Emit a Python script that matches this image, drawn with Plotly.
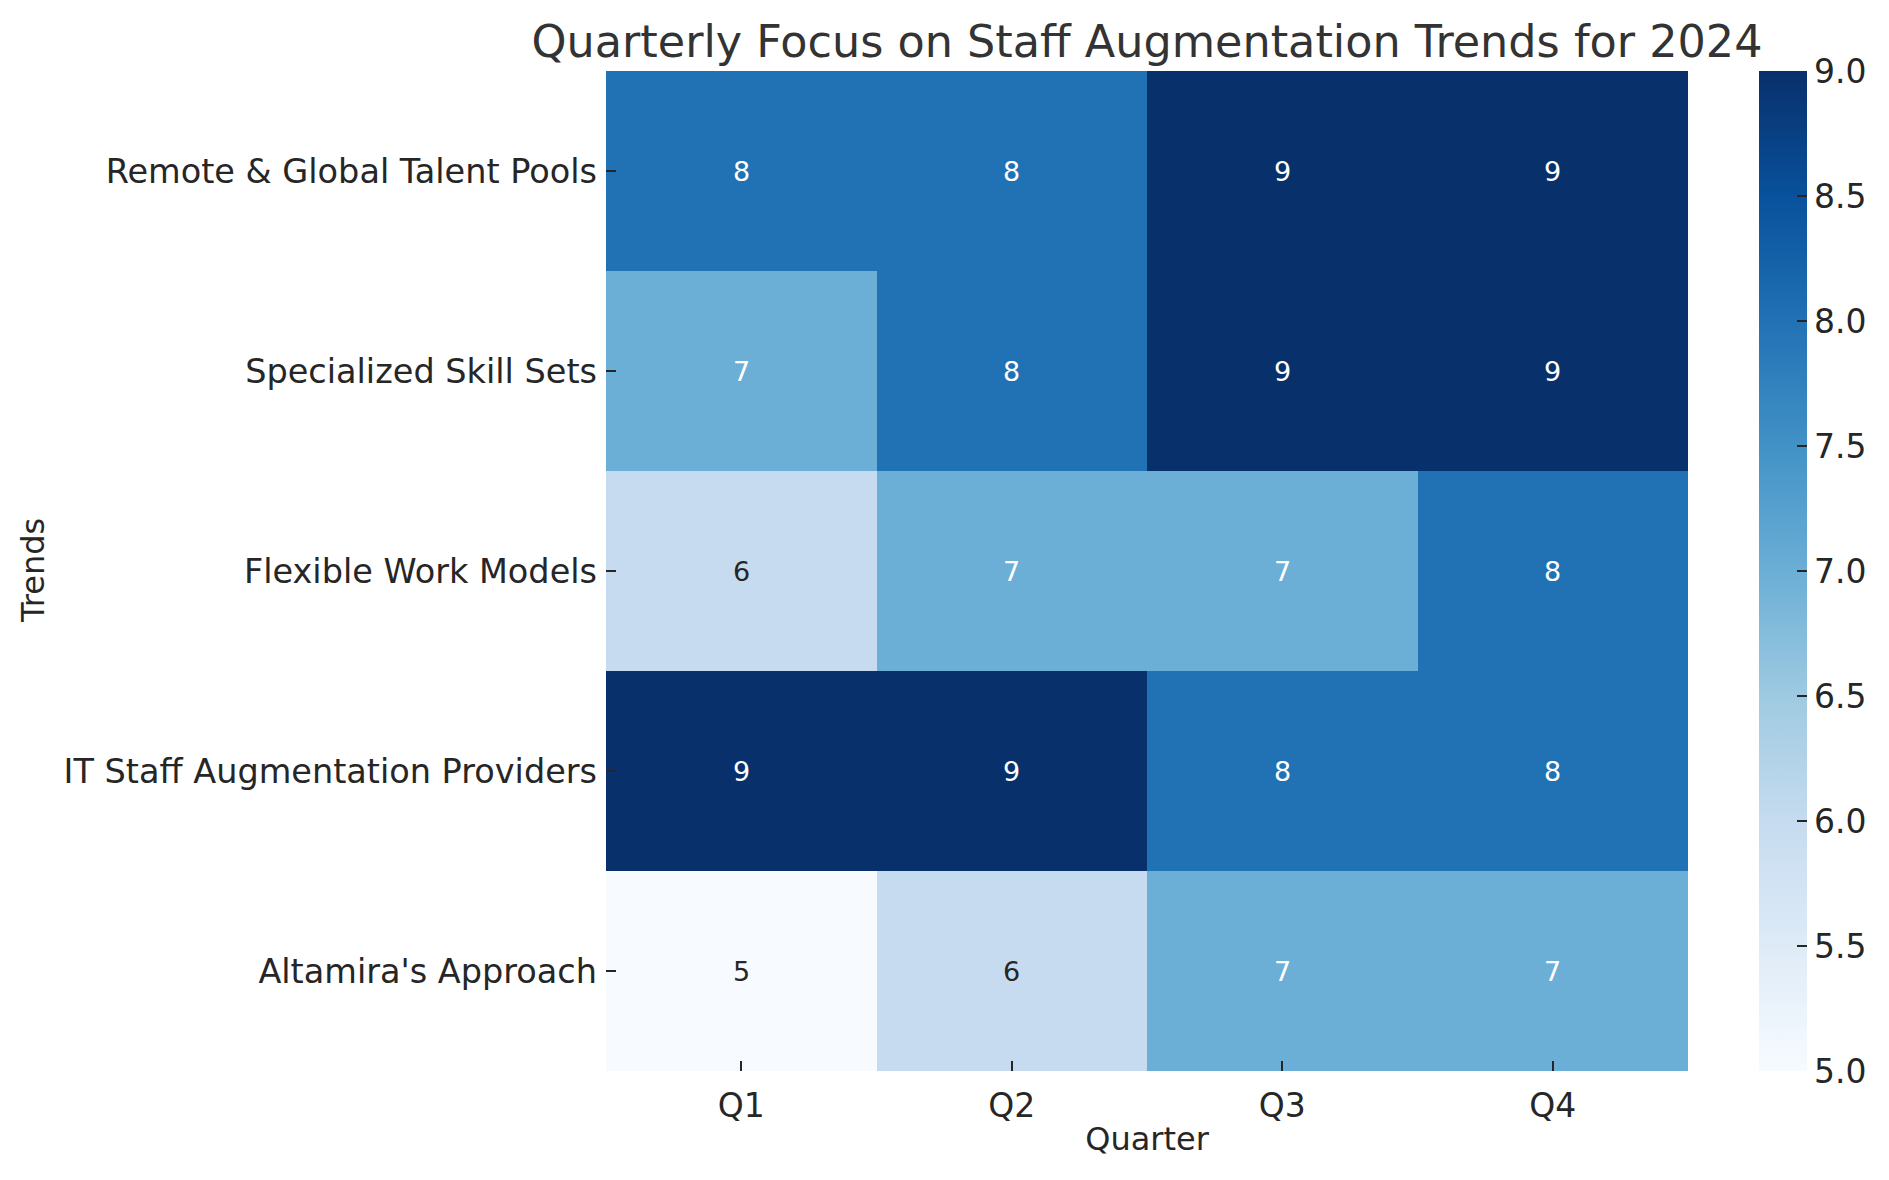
import plotly.graph_objects as go

# data
quarters = ['Q1', 'Q2', 'Q3', 'Q4']
trends = ['Remote & Global Talent Pools', 'Specialized Skill Sets', 'Flexible Work Models',
          'IT Staff Augmentation Providers', "Altamira's Approach"]
remote_global = [8, 8, 9, 9]
specialized_skills = [7, 8, 9, 9]
flexible_work = [6, 7, 7, 8]
it_providers = [9, 9, 8, 8]
altamira = [5, 6, 7, 7]

z = [remote_global, specialized_skills, flexible_work, it_providers, altamira]

FONT = 'DejaVu Sans'
TXT = '#262626'

fig = go.Figure()

fig.add_trace(go.Heatmap(
    z = z,
    x = quarters,
    y = trends,
    colorscale = 'Blues',
    zmin = 5,
    zmax = 9,
    hoverongaps = False,
    colorbar = dict(
        x = 1.0656,
        xanchor = 'left',
        y = 0.5,
        yanchor = 'middle',
        len = 1.0,
        lenmode = 'fraction',
        thickness = 48,
        outlinewidth = 0,
        ticks = 'inside',
        ticklen = 10,
        tickwidth = 2,
        tickcolor = TXT,
        tick0 = 5,
        dtick = 0.5,
        tickformat = '.1f',
        tickfont = dict(family = FONT, size = 33, color = TXT),
        xpad = 0,
        ypad = 0,
    ),
))

# cell labels, dark on the light cells like seaborn does
annotations = []
for row, name in zip(z, trends):
    for val, q in zip(row, quarters):
        annotations.append(dict(
            x = q, y = name, xref = 'x', yref = 'y',
            text = str(val),
            showarrow = False,
            font = dict(family = FONT, size = 27,
                        color = 'white' if val >= 7 else TXT),
        ))

# y axis title as an annotation so it sits where the reference has it
annotations.append(dict(
    x = 0, y = 0.5, xref = 'paper', yref = 'paper',
    xanchor = 'center', yanchor = 'middle',
    xshift = -573,
    text = 'Trends', textangle = -90,
    showarrow = False,
    font = dict(family = FONT, size = 32, color = TXT),
))

# page body adds 8px, so margins are shifted by that much
fig.update_layout(
    width = 1889,
    height = 1180,
    paper_bgcolor = 'white',
    plot_bgcolor = 'white',
    font = dict(family = FONT, color = TXT),
    margin = dict(l = 598, r = 209, t = 63, b = 117, autoexpand = False),
    title = dict(
        text = 'Quarterly Focus on Staff Augmentation Trends for 2024',
        x = 0.5, xref = 'paper', xanchor = 'center',
        y = 1 - 33.5 / 1180, yref = 'container', yanchor = 'middle',
        font = dict(family = FONT, size = 44.5, color = '#333333'),
    ),
    xaxis = dict(
        title = dict(text = 'Quarter', font = dict(size = 32, color = TXT), standoff = 3.5),
        ticks = 'inside', ticklen = 10, tickwidth = 2, tickcolor = TXT,
        tickfont = dict(size = 33, color = TXT),
        ticklabelstandoff = 12,
        showgrid = False, zeroline = False, showline = False,
        automargin = False,
    ),
    yaxis = dict(
        autorange = 'reversed',
        ticks = 'inside', ticklen = 10, tickwidth = 2, tickcolor = TXT,
        tickfont = dict(size = 33.5, color = TXT),
        ticklabelstandoff = 8,
        showgrid = False, zeroline = False, showline = False,
        automargin = False,
    ),
    annotations = annotations,
)

fig.write_html("out.html")
